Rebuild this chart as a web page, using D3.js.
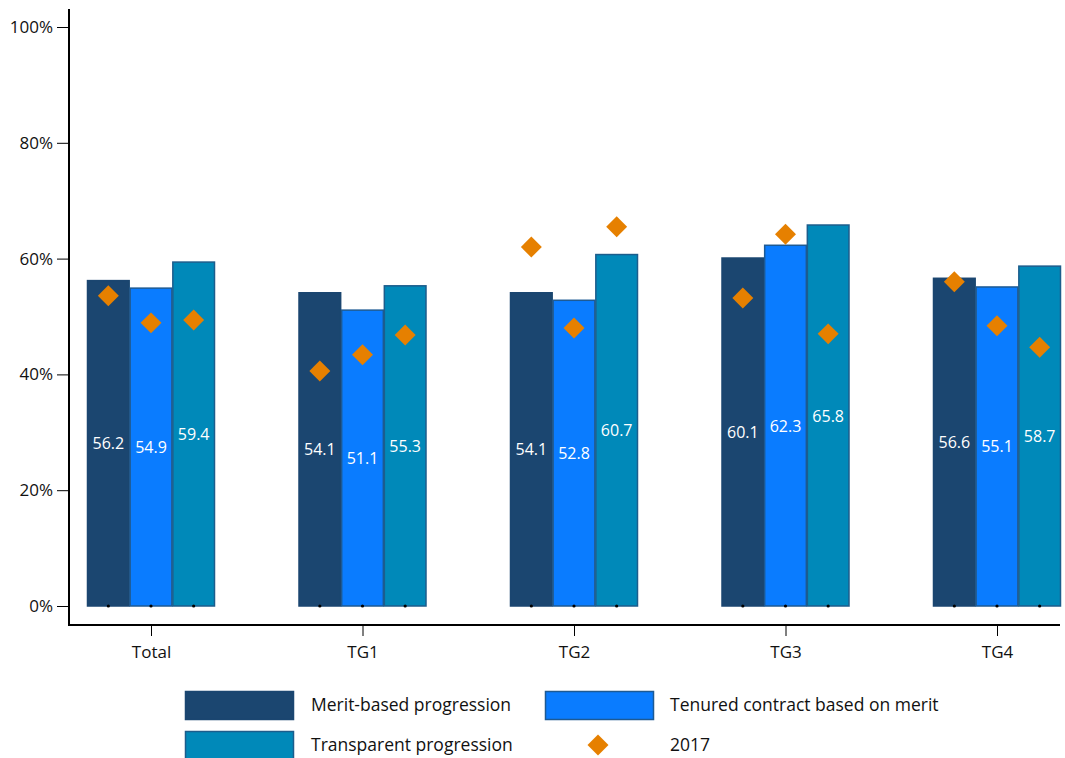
<!DOCTYPE html>
<html><head><meta charset="utf-8">
<script src="https://cdn.jsdelivr.net/npm/d3@7"></script>
<style>body{margin:0;background:#fff}svg{display:block}</style>
</head><body>
<svg id="chart" width="1065" height="758"></svg>
<script>
const categories = ["Total","TG1","TG2","TG3","TG4"];
const seriesNames = ["Merit-based progression","Tenured contract based on merit","Transparent progression"];
const merit = [56.2,54.1,54.1,60.1,56.6];
const tenured = [54.9,51.1,52.8,62.3,55.1];
const transparent = [59.4,55.3,60.7,65.8,58.7];
const y2017Merit = [53.6,40.6,62.0,53.2,56.0];
const y2017Tenured = [48.9,43.4,48.0,64.2,48.4];
const y2017Transparent = [49.4,46.8,65.5,47.0,44.7];
const yTicks = [0,20,40,60,80,100];
const markerName = "2017";

const fills = ["#1b4670","#0a7cff","#0089b9"];
const strokes = ["#1b4670","#1d5a94","#1c5d8c"];
const font = "'Open Sans', 'DejaVu Sans', sans-serif";

const svg = d3.select("#chart");
const x = d3.scalePoint().domain(categories).range([151, 997]);
const y = d3.scaleLinear().domain([0,100]).range([606, 27]);
const sub = d3.scaleBand().domain([0,1,2]).range([-64, 64]).paddingInner(0);
const bw = sub.bandwidth();

const barSeries = [merit, tenured, transparent];
const dotSeries = [y2017Merit, y2017Tenured, y2017Transparent];

// bars
barSeries.forEach((vals, s) => {
  const g = svg.append("g");
  g.selectAll("rect").data(vals).join("rect")
    .attr("x", (d,i) => x(categories[i]) + sub(s) + 0.5)
    .attr("y", d => y(d))
    .attr("width", bw - 1)
    .attr("height", d => y(0) - y(d))
    .attr("fill", fills[s])
    .attr("stroke", strokes[s])
    .attr("stroke-width", 1.5);
  g.selectAll("text").data(vals).join("text")
    .attr("x", (d,i) => x(categories[i]) + sub(s) + bw/2)
    .attr("y", d => (y(d) + y(0))/2 + 6)
    .attr("text-anchor","middle")
    .attr("fill","#fff")
    .attr("font-family", font)
    .attr("font-size", 16)
    .text(d => d.toFixed(1));
  g.selectAll("circle").data(vals).join("circle")
    .attr("cx", (d,i) => x(categories[i]) + sub(s) + bw/2)
    .attr("cy", y(0))
    .attr("r", 1.6)
    .attr("fill", "#000");
});

// 2017 diamonds
const diamond = d3.symbol().type(d3.symbolDiamond2).size(280);
dotSeries.forEach((vals, s) => {
  svg.append("g").selectAll("path").data(vals).join("path")
    .attr("d", diamond)
    .attr("transform", (d,i) => `translate(${x(categories[i]) + sub(s) + bw/2},${y(d)})`)
    .attr("fill", "#e68000");
});

// y axis
const yAxis = svg.append("g").attr("transform","translate(69,0)")
  .call(d3.axisLeft(y).tickValues(yTicks).tickFormat(d => d + "%").tickSize(12).tickPadding(4));
yAxis.select(".domain").remove();
yAxis.selectAll(".tick line").attr("stroke","#000").attr("stroke-width",1);
yAxis.selectAll(".tick text").attr("font-family", font).attr("font-size", 17).attr("fill","#111");
svg.append("line").attr("x1",69).attr("x2",69).attr("y1",9).attr("y2",626)
  .attr("stroke","#000").attr("stroke-width",2);

// x axis
const xAxis = svg.append("g").attr("transform","translate(0,625)")
  .call(d3.axisBottom(x).tickSize(11).tickPadding(10));
xAxis.select(".domain").remove();
xAxis.selectAll(".tick line").attr("stroke","#000").attr("stroke-width",1);
xAxis.selectAll(".tick text").attr("font-family", font).attr("font-size", 17).attr("fill","#111");
svg.append("line").attr("x1",68).attr("x2",1060).attr("y1",625).attr("y2",625)
  .attr("stroke","#000").attr("stroke-width",2);

// legend
const legendItems = [
  {name: seriesNames[0], type:"rect", s:0, lx:185, ly:691},
  {name: seriesNames[1], type:"rect", s:1, lx:545, ly:691},
  {name: seriesNames[2], type:"rect", s:2, lx:185, ly:731},
  {name: markerName, type:"diamond", lx:545, ly:731}
];
const lg = svg.append("g");
legendItems.forEach(it => {
  if (it.type === "rect") {
    lg.append("rect").attr("x", it.lx + 0.5).attr("y", it.ly + 0.5).attr("width", 108).attr("height", 28)
      .attr("fill", fills[it.s]).attr("stroke", strokes[it.s]).attr("stroke-width", 1.5);
  } else {
    lg.append("path").attr("d", diamond)
      .attr("transform", `translate(${it.lx + 53},${it.ly + 14})`)
      .attr("fill", "#e68000");
  }
  lg.append("text").attr("x", it.lx + (it.lx === 185 ? 126 : 125)).attr("y", it.ly + 20)
    .attr("font-family", font).attr("font-size", 17.5).attr("fill","#111").text(it.name);
});
</script>
</body></html>
